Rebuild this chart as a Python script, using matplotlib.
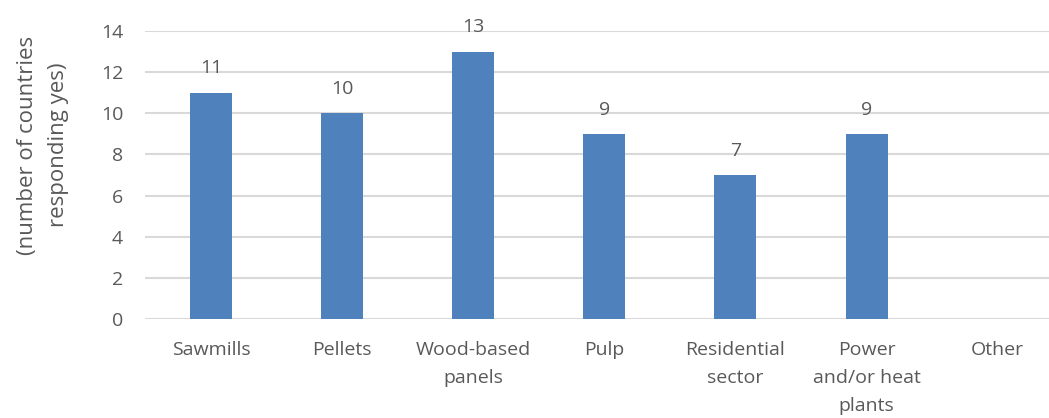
import matplotlib.pyplot as plt

categories = ["Sawmills", "Pellets", "Wood-based\npanels", "Pulp",
              "Residential\nsector", "Power\nand/or heat\nplants", "Other"]
values = [11, 10, 13, 9, 7, 9, None]

BAR = "#4F81BD"
TXT = "#595959"
GRID = "#D9D9D9"

plt.rcParams['font.family'] = ['Open Sans', 'DejaVu Sans']

fig = plt.figure(figsize=(10.49, 4.18), dpi=100)
ax = fig.add_axes([0.1386, 0.2368, 0.875, 0.689])

xs = list(range(len(categories)))
bx = [x for x, v in zip(xs, values) if v is not None]
bv = [v for v in values if v is not None]
ax.bar(bx, bv, width=0.32, color=BAR, zorder=3)
for x, v in zip(bx, bv):
    ax.annotate(str(v), (x, v), xytext=(0, 11), textcoords='offset points',
                ha='center', va='bottom', fontsize=14, color=TXT)

ax.set_xlim(-0.5, len(categories) - 0.5)
ax.set_ylim(0, 14)
ax.set_yticks(range(0, 15, 2))
ax.set_xticks(xs)
ax.set_xticklabels(categories, linespacing=1.7)
ax.tick_params(axis='both', length=0, labelsize=14, labelcolor=TXT)
ax.tick_params(axis='y', pad=16)
ax.tick_params(axis='x', pad=16)
ax.yaxis.grid(True, color=GRID, linewidth=1.5, zorder=0)
for s in ax.spines.values():
    s.set_visible(False)

fig.text(0.041, 0.653, "(number of countries\nresponding yes)", rotation=90,
         ha='center', va='center', fontsize=16, color=TXT, linespacing=1.6)

fig.savefig("out.png", dpi=100)
